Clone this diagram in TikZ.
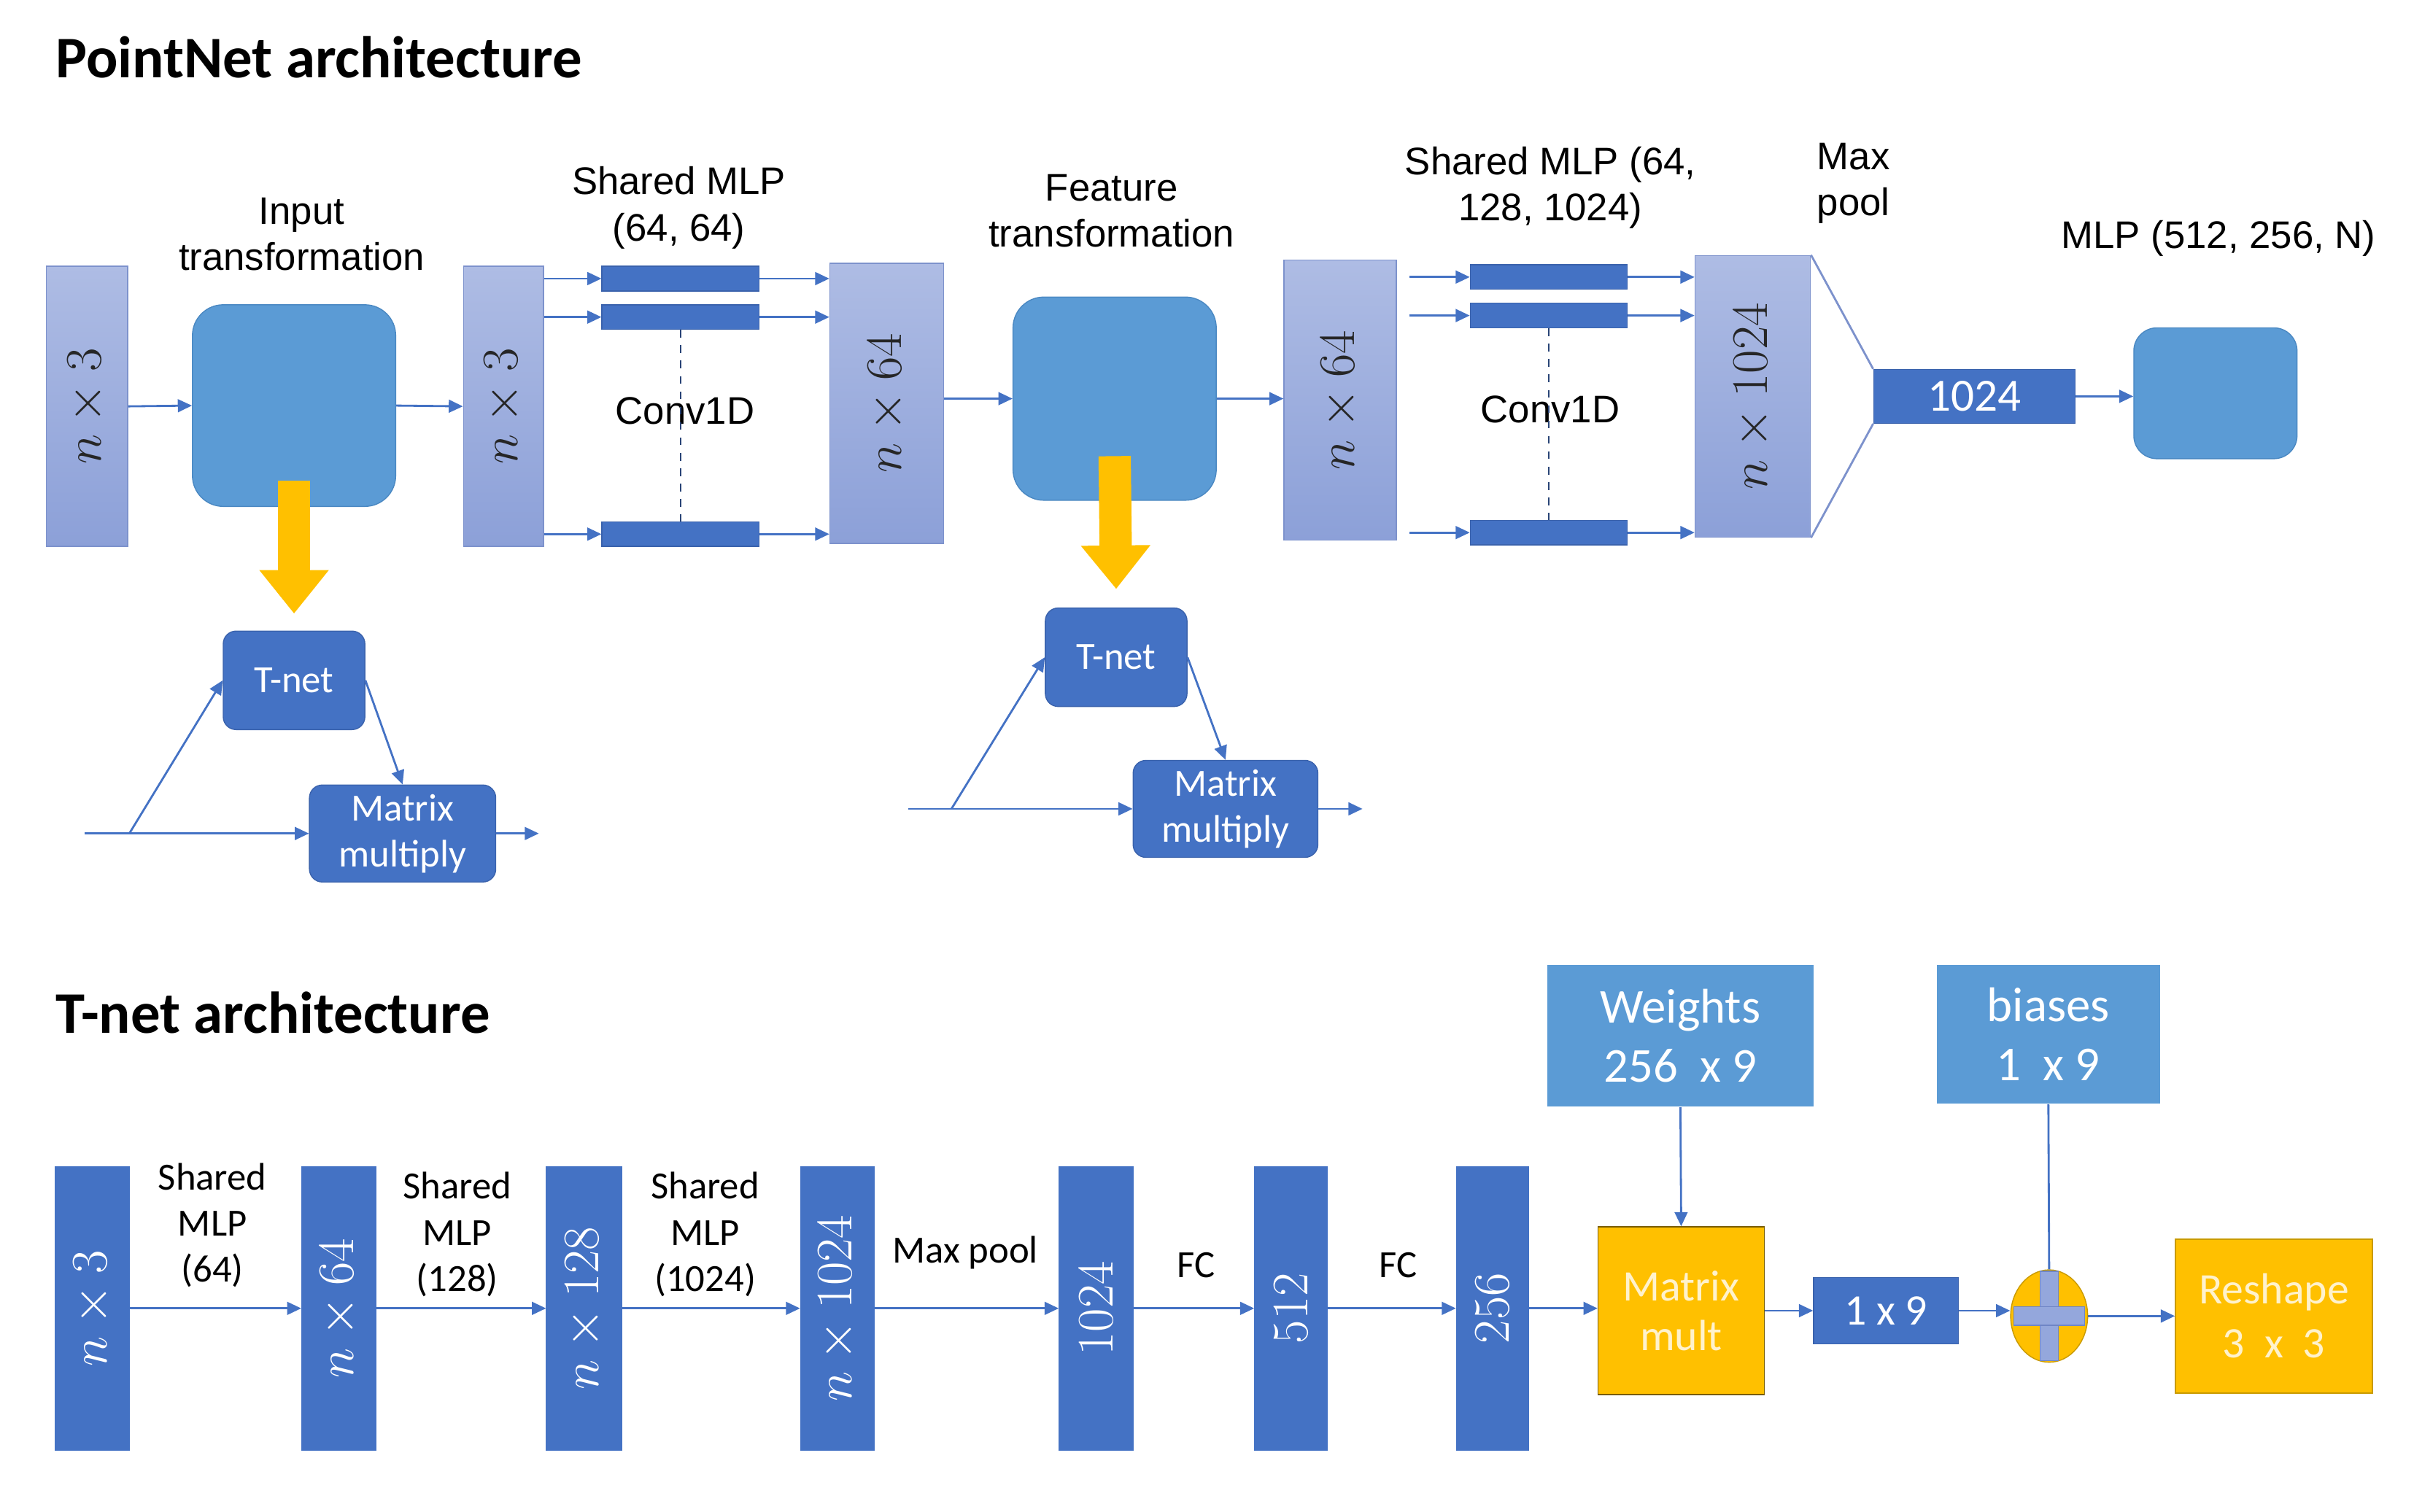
\RequirePackage{fix-cm}
\documentclass[tikz,border=0pt]{standalone}
\usepackage{fontspec}
\setmainfont{Liberation Sans}
\newfontfamily\calfont{Carlito}
\usepackage{graphicx}
\usetikzlibrary{arrows.meta,shapes.geometric,calc}

\definecolor{lightTop}{HTML}{AEBCE4}
\definecolor{lightBot}{HTML}{8CA0D8}
\definecolor{lightEdge}{HTML}{7D92CC}
\definecolor{midBlue}{HTML}{5B9BD5}
\definecolor{midEdge}{HTML}{4A88C2}
\definecolor{darkBlue}{HTML}{4472C4}
\definecolor{darkEdge}{HTML}{3A62AC}
\definecolor{goldY}{HTML}{FFC000}
\definecolor{goldEdge}{HTML}{C99A00}
\definecolor{goldText}{HTML}{FFF2CC}
\definecolor{crossC}{HTML}{94A7DC}
\definecolor{crossEdge}{HTML}{6F86C6}

\newcommand{\px}{0.0211cm}

\tikzset{
  sz/.style 2 args={minimum width=#1*\px, minimum height=#2*\px, inner sep=0pt},
  lcol/.style={draw=lightEdge, top color=lightTop, bottom color=lightBot,
    text=black!85, font=\fontsize{20}{24}\selectfont},
  dcol/.style={draw=darkBlue, fill=darkBlue, text=white, font=\fontsize{20}{24}\selectfont},
  rbox/.style={draw=midEdge, fill=midBlue, rounded corners=12pt},
  tbox/.style={draw=darkEdge, fill=darkBlue, rounded corners=5pt, text=white,
    align=center, font=\calfont\fontsize{15}{18}\selectfont},
  bar/.style={draw=darkEdge, fill=darkBlue},
  ybox/.style={draw=goldEdge, fill=goldY, text=goldText, align=center,
    font=\calfont\fontsize{17}{19.5}\selectfont},
  wbox/.style={fill=midBlue, text=white, align=center,
    font=\calfont\fontsize{19}{23}\selectfont},
  lbl/.style={align=center, inner sep=0pt, font=\fontsize{15}{18}\selectfont},
  tlbl/.style={align=center, inner sep=0pt, font=\calfont\fontsize{15}{18}\selectfont},
  title/.style={inner sep=0pt, font=\calfont\bfseries\fontsize{23}{28}\selectfont},
  ln/.style={draw=darkBlue, line width=0.8pt},
  arr/.style={ln, -{Triangle[length=5.5pt,width=5pt]}},
  yarr/.style={draw=goldY, line width=12.6pt, -{Triangle[length=17pt,width=26pt]}}
}

\begin{document}
\begin{tikzpicture}[x=0.0211cm, y=-0.0211cm]
\useasboundingbox (0,0) rectangle (1568,982);

\node[title, anchor=west] (ttop) at (36,37) {PointNet architecture};
\node[title, anchor=west] (tbot) at (36,658) {T-net architecture};

% PointNet: input transformation
\node[lcol, sz={53}{182}] (inA) at (56.5,264) {\rotatebox{90}{$n\times 3$}};
\node[rbox, sz={132}{131}] (trA) at (191,263.5) {};
\node[lcol, sz={52}{182}] (inB) at (327,264) {\rotatebox{90}{$n\times 3$}};
\node[lbl] (ltrA) at (196,152) {Input\\transformation};
\draw[arr] (inA.east) -- (trA.west);
\draw[arr] (trA.east) -- (inB.west);

\node[tbox, sz={92}{64}] (tnA) at (191,442) {T-net};
\node[tbox, sz={121}{63}] (mmA) at (261.5,541.5) {Matrix\\multiply};
\draw[yarr] ($(trA.south)+(0,-17)$) -- ($(tnA.north)+(0,-11)$);
\coordinate (srcA) at (55,541.5);
\coordinate (brA) at (84,541.5);
\coordinate (outA) at (350,541.5);
\draw[arr] (srcA) -- (mmA.west);
\draw[arr] (brA) -- (tnA.west);
\draw[arr] (tnA.east) -- (mmA.north);
\draw[arr] (mmA.east) -- (outA);

% shared MLP (64, 64)
\node[bar, sz={102}{16}] (ba1) at (442,181) {};
\node[bar, sz={102}{16}] (ba2) at (442,206) {};
\node[bar, sz={102}{16}] (ba3) at (442,347) {};
\node[lcol, sz={74}{182}] (inC) at (576,262) {\rotatebox{90}{$n\times 64$}};
\node[lbl] (lmlpA) at (441,135) {Shared MLP\\(64, 64)};
\node[lbl] (lcvA) at (445,267) {Conv1D};
\draw[arr] (inB.east |- ba1) -- (ba1.west);
\draw[arr] (inB.east |- ba2) -- (ba2.west);
\draw[arr] (inB.east |- ba3) -- (ba3.west);
\draw[arr] (ba1.east) -- (ba1 -| inC.west);
\draw[arr] (ba2.east) -- (ba2 -| inC.west);
\draw[arr] (ba3.east) -- (ba3 -| inC.west);
\draw[darkBlue!60!black, dashed, line width=0.5pt] (ba2.south) -- (ba3.north);

% feature transformation
\node[rbox, sz={132}{132}] (trB) at (724,259) {};
\node[lcol, sz={73}{182}] (inD) at (870.5,260) {\rotatebox{90}{$n\times 64$}};
\node[lbl] (ltrB) at (722,137) {Feature\\transformation};
\draw[arr] (inC.east |- trB) -- (trB.west);
\draw[arr] (trB.east) -- (trB -| inD.west);

\node[tbox, sz={92}{64}] (tnB) at (725,427) {T-net};
\node[tbox, sz={120}{63}] (mmB) at (796,525.5) {Matrix\\multiply};
\draw[yarr] ($(trB.south)+(0,-29)$) -- ($(tnB.north)+(0,-12)$);
\coordinate (srcB) at (590,525.5);
\coordinate (brB) at (618,525.5);
\coordinate (outB) at (885,525.5);
\draw[arr] (srcB) -- (mmB.west);
\draw[arr] (brB) -- (tnB.west);
\draw[arr] (tnB.east) -- (mmB.north);
\draw[arr] (mmB.east) -- (outB);

% shared MLP (64, 128, 1024)
\node[bar, sz={102}{16}] (bb1) at (1006,180) {};
\node[bar, sz={102}{16}] (bb2) at (1006,205) {};
\node[bar, sz={102}{16}] (bb3) at (1006,346) {};
\node[lcol, sz={75}{183}] (inE) at (1138.5,257.5) {\rotatebox{90}{$n\times 1024$}};
\node[lbl] (lmlpB) at (1007,122) {Shared MLP (64,\\128, 1024)};
\node[lbl] (lcvB) at (1007,266) {Conv1D};
\draw[arr] ($(inD.east |- bb1)+(8,0)$) -- (bb1.west);
\draw[arr] ($(inD.east |- bb2)+(8,0)$) -- (bb2.west);
\draw[arr] ($(inD.east |- bb3)+(8,0)$) -- (bb3.west);
\draw[arr] (bb1.east) -- (bb1 -| inE.west);
\draw[arr] (bb2.east) -- (bb2 -| inE.west);
\draw[arr] (bb3.east) -- (bb3 -| inE.west);
\draw[darkBlue!60!black, dashed, line width=0.5pt] (bb2.south) -- (bb3.north);

% max pool and MLP
\node[bar, sz={131}{35}, text=white, font=\calfont\fontsize{18}{20}\selectfont] (pool) at (1282.5,257.5) {1024};
\node[rbox, sz={106}{85}, rounded corners=9pt] (mlp) at (1439,255.5) {};
\node[lbl, anchor=west, align=left] (lpool) at (1180,119) {Max\\pool};
\node[lbl] (lmlp) at (1441,155) {MLP (512, 256, N)};
\draw[ln, draw=lightEdge] (inE.north east) -- (pool.north west);
\draw[ln, draw=lightEdge] (inE.south east) -- (pool.south west);
\draw[arr] (pool.east) -- (pool -| mlp.west);

% T-net architecture
\node[dcol, sz={48}{184}] (c1) at (60,850) {\rotatebox{90}{$n\times 3$}};
\node[dcol, sz={48}{184}] (c2) at (220,850) {\rotatebox{90}{$n\times 64$}};
\node[dcol, sz={49}{184}] (c3) at (379.5,850) {\rotatebox{90}{$n\times 128$}};
\node[dcol, sz={48}{184}] (c4) at (544,850) {\rotatebox{90}{$n\times 1024$}};
\node[dcol, sz={48}{184}] (c5) at (712,850) {\rotatebox{90}{$1024$}};
\node[dcol, sz={47}{184}] (c6) at (838.5,850) {\rotatebox{90}{$512$}};
\node[dcol, sz={47}{184}] (c7) at (969.5,850) {\rotatebox{90}{$256$}};
\node[tlbl] (l12) at (138,796) {Shared\\MLP\\(64)};
\node[tlbl] (l23) at (297,802) {Shared\\MLP\\(128)};
\node[tlbl] (l34) at (458,802) {Shared\\MLP\\(1024)};
\node[tlbl] (l45) at (627,814) {Max pool};
\node[tlbl] (l56) at (777,822) {FC};
\node[tlbl] (l67) at (908,822) {FC};
\draw[arr] (c1.east) -- (c2.west);
\draw[arr] (c2.east) -- (c3.west);
\draw[arr] (c3.east) -- (c4.west);
\draw[arr] (c4.east) -- (c5.west);
\draw[arr] (c5.east) -- (c6.west);
\draw[arr] (c6.east) -- (c7.west);

\node[ybox, sz={108}{109}, draw=goldEdge!60!black] (mm) at (1092,851.5) {Matrix\\mult};
\node[wbox, sz={173}{92}] (wts) at (1091.5,673) {Weights\\256 ~x 9};
\node[bar, sz={94}{43}, text=white, font=\calfont\fontsize{17}{20}\selectfont] (one9) at (1225,851.5) {1 x 9};
\node[ellipse, draw=goldEdge, fill=goldY, sz={50}{60}] (plus) at (1331,855) {};
\filldraw[fill=crossC, draw=crossEdge, line width=0.4pt] ($(plus)+(-6,-29)$) rectangle ($(plus)+(6,29)$);
\filldraw[fill=crossC, draw=crossEdge, line width=0.4pt] ($(plus)+(-23,-6)$) rectangle ($(plus)+(23,6)$);
\fill[crossC] ($(plus)+(-5.6,-5.6)$) rectangle ($(plus)+(5.6,5.6)$);
\node[wbox, sz={145}{90}] (bias) at (1330.5,672) {biases\\1 ~x 9};
\node[ybox, sz={128}{100}, font=\calfont\fontsize{17}{21}\selectfont] (resh) at (1477,855) {Reshape\\3 ~x~ 3};
\draw[arr] (c7.east) -- (c7.east -| mm.west);
\draw[arr] (wts.south) -- (mm.north);
\draw[arr] (mm.east |- one9) -- (one9.west);
\draw[arr] (one9.east) -- (one9.east -| plus.west);
\draw[ln] (bias.south) -- (plus.north);
\draw[arr] (plus.east) -- (resh.west);

\end{tikzpicture}
\end{document}
